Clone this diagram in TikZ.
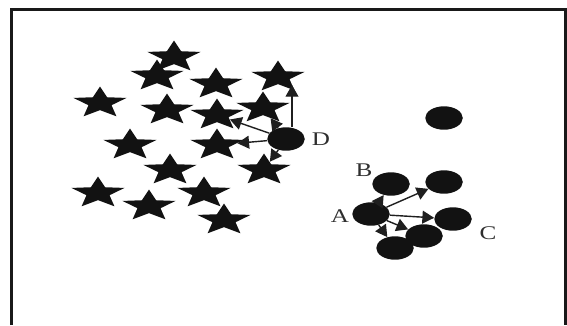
\documentclass[tikz,border=0pt]{standalone}
\usepackage{fontspec}
\setmainfont{Liberation Serif}
\usetikzlibrary{shapes.geometric,arrows.meta,calc}
\begin{document}
\begin{tikzpicture}[x=0.03cm,y=-0.03cm,
  starnode/.style={star, star points=5, star point ratio=2.3, fill=black!93,
    draw=none, inner sep=0pt, minimum size=28pt, xscale=1.7},
  dot/.style={ellipse, fill=black!93, draw=none, inner sep=0pt,
    minimum width=32pt, minimum height=20pt},
  arr/.style={-{Triangle[length=10pt,width=11pt]}, line width=1.2pt, black!88},
  lbl/.style={font=\fontsize{16.5}{16.5}\selectfont, text=black!82, inner sep=0pt, xscale=1.3},
  frameline/.style={line width=2.4pt, black!90}]

% canvas
\useasboundingbox (0,0) rectangle (567,325);

% open frame (no bottom edge)
\coordinate (fbl) at (11.7,325);
\coordinate (ftl) at (11.7,9.5);
\coordinate (ftr) at (565.5,9.5);
\coordinate (fbr) at (565.5,325);
\draw[frameline] (fbl) -- (ftl) -- (ftr) -- (fbr);

% star cluster
\node[starnode] (s2)  at (157,76)  {};
\node[starnode] (s1)  at (174,57)  {};
\node[starnode] (s3)  at (216,84)  {};
\node[starnode] (s4)  at (278,77)  {};
\node[starnode] (s5)  at (100,103) {};
\node[starnode] (s6)  at (167,110) {};
\node[starnode] (s7)  at (217,115) {};
\node[starnode] (s8)  at (263,108) {};
\node[starnode] (s9)  at (130,145) {};
\node[starnode] (s10) at (217,145) {};
\node[starnode] (s11) at (170,170) {};
\node[starnode] (s12) at (264,170) {};
\node[starnode] (s13) at (98,193)  {};
\node[starnode] (s14) at (149,206) {};
\node[starnode] (s15) at (204,193) {};
\node[starnode] (s16) at (224,220) {};

% dot cluster
\node[dot] (D)   at (286,139) {};
\node[dot] (E)   at (444,118) {};
\node[dot] (B)   at (391,184) {};
\node[dot] (UR)  at (444,182) {};
\node[dot] (A)   at (371,214) {};
\node[dot] (C)   at (453,219) {};
\node[dot] (LM)  at (424,236) {};
\node[dot] (BOT) at (395,248) {};

% labels
\node[lbl] (lD) at (321,139) {D};
\node[lbl] (lB) at (364,170) {B};
\node[lbl] (lA) at (340,216) {A};
\node[lbl] (lC) at (488,233) {C};

% neighbours of D
\draw[arr] ($(D.north)+(6,0)$) -- ($(s4.center)+(14,8)$);
\draw[arr] (D) -- (s8);
\draw[arr] (D) -- (s7);
\draw[arr] (D) -- (s10);
\draw[arr] (D) -- (s12);

% neighbours of A
\draw[arr] (A) -- (B);
\draw[arr] (A) -- (UR);
\draw[arr] (A) -- (C);
\draw[arr] (A) -- (LM);
\draw[arr] (A) -- (BOT);
\end{tikzpicture}
\end{document}
